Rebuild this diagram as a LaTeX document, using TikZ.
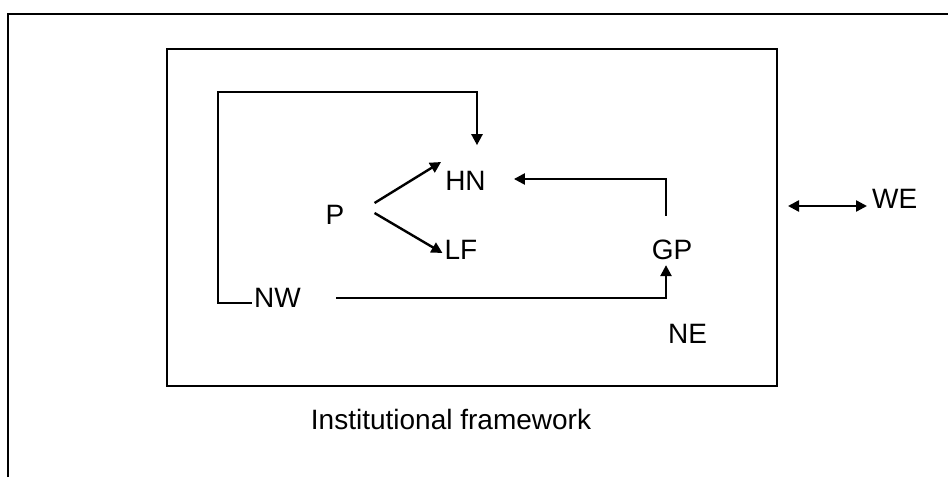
\documentclass[tikz,border=0pt]{standalone}
\usepackage{fontspec}
\setmainfont{Liberation Sans}
\usetikzlibrary{arrows.meta,calc}
\tikzset{
  lbl/.style={inner sep=0pt, font=\fontsize{28}{31}\selectfont},
  frameline/.style={line width=2pt, black},
  conn/.style={line width=2.4pt, black},
  arr/.style={conn, -{Triangle[length=11pt,width=11pt]}},
  darr/.style={conn, {Triangle[length=11pt,width=11pt]}-{Triangle[length=11pt,width=11pt]}}
}
\begin{document}
\begin{tikzpicture}[x=1pt,y=-1pt]
\useasboundingbox (0,0) rectangle (948,477);
% outer frame (cropped)
\coordinate (oa) at (8,477);
\coordinate (ob) at (8,14);
\coordinate (oc) at (948,14);
\draw[frameline] (oa) -- (ob) -- (oc);
% inner box
\node[draw, frameline, minimum width=610pt, minimum height=337pt, inner sep=0pt] (box) at (472,217.5) {};
% labels
\node[lbl] (P) at (335,215) {P};
\node[lbl] (HN) at (465.5,181) {HN};
\node[lbl] (LF) at (461,250) {LF};
\node[lbl] (GP) at (672,250) {GP};
\node[lbl] (NW) at (277.5,298) {NW};
\node[lbl] (NE) at (687.5,334) {NE};
\node[lbl, anchor=west] (WE) at (872,199) {WE};
\node[lbl] (IF) at (451,419) {Institutional framework};
% connectors
\draw[arr] ($(P.east)+(30,-12)$) -- ($(HN.west)+(-4,-19)$);
\draw[arr] ($(P.east)+(30,-2)$) -- ($(LF.west)+(-2,3)$);
\draw[arr] ($(NW.west)+(-2,5)$) -| (218,92) -| ($(HN.north)+(11.5,-26)$);
\draw[arr] ($(NW.east)+(35,0)$) -| ($(GP.south)+(-6,5)$);
\draw[arr] ($(GP.north)+(-6,-24)$) |- ($(HN.east)+(28,-2)$);
\draw[darr] ($(box.east)+(10,-11.5)$) -- ($(WE.west)+(-5,7)$);
\end{tikzpicture}
\end{document}
